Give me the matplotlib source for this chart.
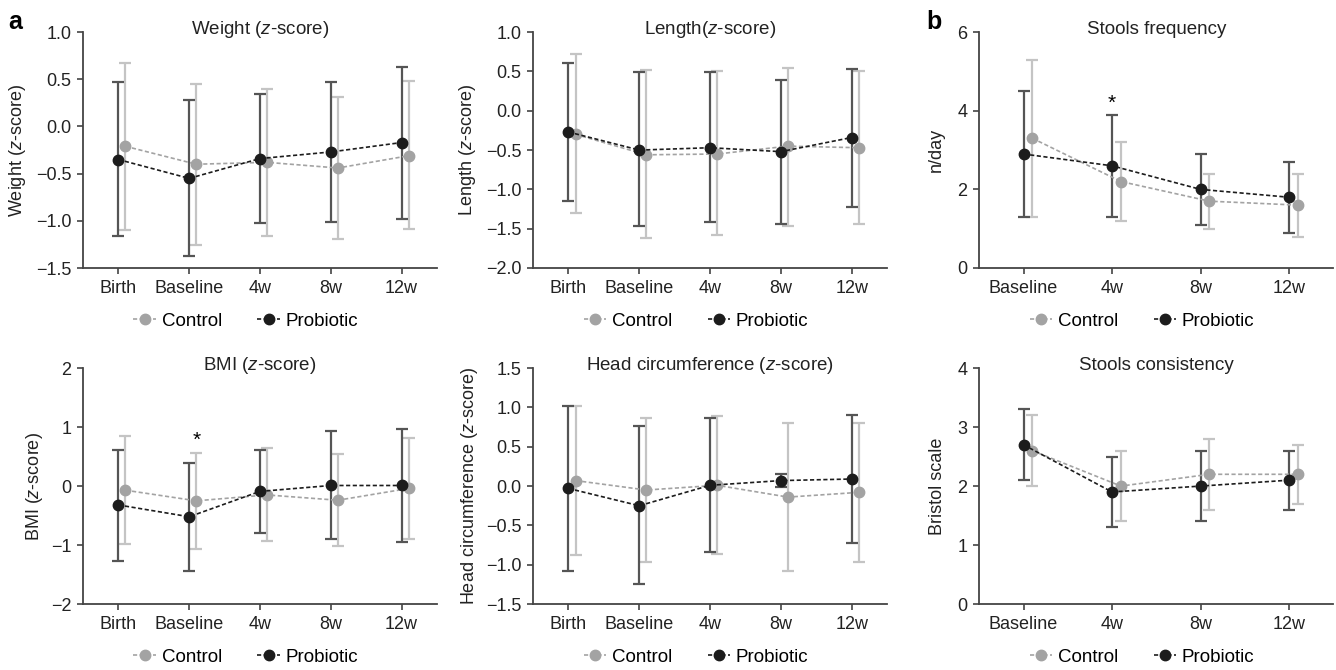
import matplotlib
matplotlib.use("Agg")
import matplotlib.pyplot as plt
import numpy as np

plt.rcParams['font.family'] = ['Liberation Sans', 'DejaVu Sans']
plt.rcParams['mathtext.fontset'] = 'custom'
plt.rcParams['mathtext.rm'] = 'Liberation Sans'
plt.rcParams['mathtext.it'] = 'Liberation Sans:italic'

# ---- data (mean, lower end, upper end of error bar) ----
times5 = ['Birth', 'Baseline', '4w', '8w', '12w']
times4 = ['Baseline', '4w', '8w', '12w']

weight_pro = [-0.35, -0.55, -0.34, -0.27, -0.17]
weight_pro_lo = [-1.16, -1.37, -1.02, -1.01, -0.98]
weight_pro_hi = [0.47, 0.28, 0.34, 0.47, 0.63]
weight_con = [-0.21, -0.40, -0.38, -0.44, -0.31]
weight_con_lo = [-1.10, -1.26, -1.16, -1.19, -1.09]
weight_con_hi = [0.67, 0.45, 0.40, 0.31, 0.48]

length_pro = [-0.27, -0.50, -0.47, -0.52, -0.34]
length_pro_lo = [-1.15, -1.47, -1.42, -1.44, -1.22]
length_pro_hi = [0.61, 0.49, 0.49, 0.39, 0.53]
length_con = [-0.30, -0.56, -0.55, -0.45, -0.47]
length_con_lo = [-1.30, -1.62, -1.58, -1.47, -1.44]
length_con_hi = [0.72, 0.52, 0.50, 0.54, 0.50]

freq_pro = [2.9, 2.6, 2.0, 1.8]
freq_pro_lo = [1.3, 1.3, 1.1, 0.9]
freq_pro_hi = [4.5, 3.9, 2.9, 2.7]
freq_con = [3.3, 2.2, 1.7, 1.6]
freq_con_lo = [1.3, 1.2, 1.0, 0.8]
freq_con_hi = [5.3, 3.2, 2.4, 2.4]

bmi_pro = [-0.32, -0.52, -0.09, 0.01, 0.01]
bmi_pro_lo = [-1.27, -1.44, -0.79, -0.89, -0.94]
bmi_pro_hi = [0.62, 0.40, 0.61, 0.93, 0.96]
bmi_con = [-0.07, -0.25, -0.15, -0.24, -0.04]
bmi_con_lo = [-0.99, -1.07, -0.93, -1.02, -0.89]
bmi_con_hi = [0.85, 0.56, 0.64, 0.54, 0.82]

head_pro = [-0.03, -0.25, 0.01, 0.07, 0.09]
head_pro_lo = [-1.08, -1.25, -0.84, -0.01, -0.72]
head_pro_hi = [1.02, 0.76, 0.86, 0.15, 0.90]
head_con = [0.07, -0.05, 0.01, -0.14, -0.08]
head_con_lo = [-0.88, -0.96, -0.87, -1.08, -0.96]
head_con_hi = [1.02, 0.86, 0.89, 0.80, 0.80]

cons_pro = [2.7, 1.9, 2.0, 2.1]
cons_pro_lo = [2.1, 1.3, 1.4, 1.6]
cons_pro_hi = [3.3, 2.5, 2.6, 2.6]
cons_con = [2.6, 2.0, 2.2, 2.2]
cons_con_lo = [2.0, 1.4, 1.6, 1.7]
cons_con_hi = [3.2, 2.6, 2.8, 2.7]

CON_C = '#a3a3a3'
CON_E = '#c4c4c4'
PRO_C = '#1c1c1c'
PRO_E = '#555555'
FS = 13


def panel(rect, cats, pro, pro_lo, pro_hi, con, con_lo, con_hi,
          title, ylabel, ylim, yticks, yfmt, labx, star=None):
    ax = fig.add_axes(rect)
    x = np.arange(len(cats))
    xc = x + 0.1
    pro = np.array(pro); con = np.array(con)
    pe = [pro - np.array(pro_lo), np.array(pro_hi) - pro]
    ce = [con - np.array(con_lo), np.array(con_hi) - con]
    ax.errorbar(xc, con, yerr=ce, fmt='none', ecolor=CON_E, elinewidth=1.6,
                capsize=4.5, capthick=1.6, zorder=2)
    ax.errorbar(x, pro, yerr=pe, fmt='none', ecolor=PRO_E, elinewidth=1.6,
                capsize=4.5, capthick=1.6, zorder=3)
    ax.plot(xc, con, ls=(0, (2.5, 1.5)), color=CON_C, lw=1.2, marker='o',
            ms=7.5, mfc=CON_C, mec=CON_C, label='Control', zorder=4)
    ax.plot(x, pro, ls=(0, (2.5, 1.5)), color=PRO_C, lw=1.2, marker='o',
            ms=7.5, mfc=PRO_C, mec=PRO_C, label='Probiotic', zorder=5)
    if star is not None:
        ax.text(star[0], star[1], '*', ha='center', va='center', fontsize=15)
    ax.set_xlim(-0.5, len(cats) - 0.5)
    ax.set_ylim(*ylim)
    ax.set_yticks(yticks)
    ax.set_yticklabels([yfmt.format(v).replace('-', '\u2212') for v in yticks])
    ax.set_xticks(x)
    ax.set_xticklabels(cats)
    for s in ['top', 'right']:
        ax.spines[s].set_visible(False)
    for s in ['left', 'bottom']:
        ax.spines[s].set_color('#444444')
        ax.spines[s].set_linewidth(1.3)
    ax.tick_params(axis='both', labelsize=FS, color='#444444', width=1.2,
                   length=4, pad=4.5, labelcolor='#222222')
    ax.set_title(title, fontsize=FS + 0.5, y=1.0, pad=-1, color='#222222')
    ax.set_ylabel(ylabel, fontsize=FS, color='#222222')
    ax.yaxis.set_label_coords(labx, 0.5)
    ax.legend(loc='center', bbox_to_anchor=(0.46, -0.225), ncol=2, frameon=False,
              fontsize=FS + 0.5, handlelength=1.2, handletextpad=0.3, columnspacing=1.9)
    return ax


fig = plt.figure(figsize=(13.36, 6.70), dpi=100)

c1, c2, c3 = 0.0621, 0.399, 0.733
w = 0.265
r1, r2 = 0.600, 0.0985
h = 0.352

panel([c1, r1, w, h], times5, weight_pro, weight_pro_lo, weight_pro_hi,
      weight_con, weight_con_lo, weight_con_hi, r'Weight ($z$-score)',
      r'Weight ($z$-score)', (-1.5, 1.0), np.arange(-1.5, 1.01, 0.5), '{:.1f}', -0.155)
panel([c2, r1, w, h], times5, length_pro, length_pro_lo, length_pro_hi,
      length_con, length_con_lo, length_con_hi, r'Length($z$-score)',
      r'Length ($z$-score)', (-2.0, 1.0), np.arange(-2.0, 1.01, 0.5), '{:.1f}', -0.155)
panel([c3, r1, w, h], times4, freq_pro, freq_pro_lo, freq_pro_hi,
      freq_con, freq_con_lo, freq_con_hi, 'Stools frequency',
      'n/day', (0, 6), [0, 2, 4, 6], '{:.0f}', -0.097, star=(1, 4.2))
panel([c1, r2, w, h], times5, bmi_pro, bmi_pro_lo, bmi_pro_hi,
      bmi_con, bmi_con_lo, bmi_con_hi, r'BMI ($z$-score)',
      r'BMI ($z$-score)', (-2, 2), [-2, -1, 0, 1, 2], '{:.0f}', -0.107, star=(1.1, 0.78))
panel([c2, r2, w, h], times5, head_pro, head_pro_lo, head_pro_hi,
      head_con, head_con_lo, head_con_hi, r'Head circumference ($z$-score)',
      r'Head circumference ($z$-score)', (-1.5, 1.5), np.arange(-1.5, 1.51, 0.5), '{:.1f}', -0.15)
panel([c3, r2, w, h], times4, cons_pro, cons_pro_lo, cons_pro_hi,
      cons_con, cons_con_lo, cons_con_hi, 'Stools consistency',
      'Bristol scale', (0, 4), [0, 1, 2, 3, 4], '{:.0f}', -0.095)

fig.text(0.006, 0.985, 'a', fontsize=18, fontweight='bold', va='top', ha='left')
fig.text(0.693, 0.985, 'b', fontsize=18, fontweight='bold', va='top', ha='left')

fig.savefig('out.png', dpi=100)
